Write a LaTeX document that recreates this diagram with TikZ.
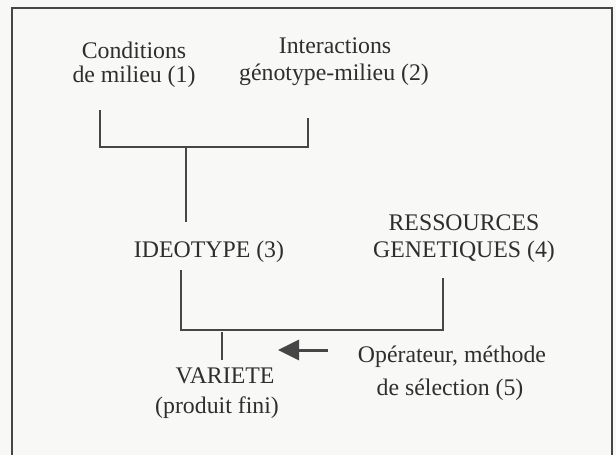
\documentclass[tikz,border=0pt]{standalone}
\usepackage{fontspec}
\setmainfont{Liberation Serif}
\usetikzlibrary{arrows.meta}
\definecolor{paper}{HTML}{F8F8F6}
\definecolor{ink}{HTML}{2E2E2E}
\definecolor{wire}{HTML}{464646}
\begin{document}
\begin{tikzpicture}[x=1pt,y=-1pt,
  lbl/.style={anchor=base, inner sep=0pt, text=ink, font=\fontsize{23.8}{26}\selectfont},
  wirestyle/.style={draw=wire, line width=2pt},
  framestyle/.style={draw=wire, line width=2.4pt}]
\useasboundingbox (0,0) rectangle (616,455);
\fill[paper] (0,0) rectangle (616,455);
% frame (bottom edge is cut off)
\coordinate (fbl) at (12,455);
\coordinate (ftl) at (12,8);
\coordinate (ftr) at (612,8);
\coordinate (fbr) at (612,455);
\draw[framestyle] (fbl) -- (ftl) -- (ftr) -- (fbr);

% texts
\node[lbl] (cond1) at (134,58) {Conditions};
\node[lbl] (cond2) at (134,82) {de milieu (1)};
\node[lbl] (inter1) at (335,53) {Interactions};
\node[lbl] (inter2) at (334,80) {génotype-milieu (2)};
\node[lbl] (ideo) at (209,257) {IDEOTYPE (3)};
\node[lbl] (res1) at (464,230) {RESSOURCES};
\node[lbl] (res2) at (464,257) {GENETIQUES (4)};
\node[lbl] (var1) at (225,383) {VARIETE};
\node[lbl] (var2) at (217,413) {(produit fini)};
\node[lbl] (op1) at (452,362) {Opérateur, méthode};
\node[lbl] (op2) at (450,395) {de sélection (5)};

% upper connector
\coordinate (a1) at (100,110);
\coordinate (a2) at (100,147);
\coordinate (b1) at (308,118);
\coordinate (b2) at (308,147);
\coordinate (c1) at (186,147);
\coordinate (c2) at (186,222);
\draw[wirestyle] (a1) -- (a2) -- (b2) -- (b1);
\draw[wirestyle] (c1) -- (c2);

% lower connector
\coordinate (d1) at (181,270);
\coordinate (d2) at (181,330);
\coordinate (e2) at (443,330);
\coordinate (e1) at (443,278);
\draw[wirestyle] (d1) -- (d2) -- (e2) -- (e1);
\coordinate (f1) at (222,332);
\coordinate (f2) at (222,360);
\draw[wirestyle] (f1) -- (f2);

% arrow from operator
\coordinate (g1) at (328,350);
\coordinate (g2) at (278,350);
\draw[draw=wire, line width=3pt, -{Triangle[length=21pt,width=20pt,fill=wire]}] (g1) -- (g2);
\end{tikzpicture}
\end{document}
